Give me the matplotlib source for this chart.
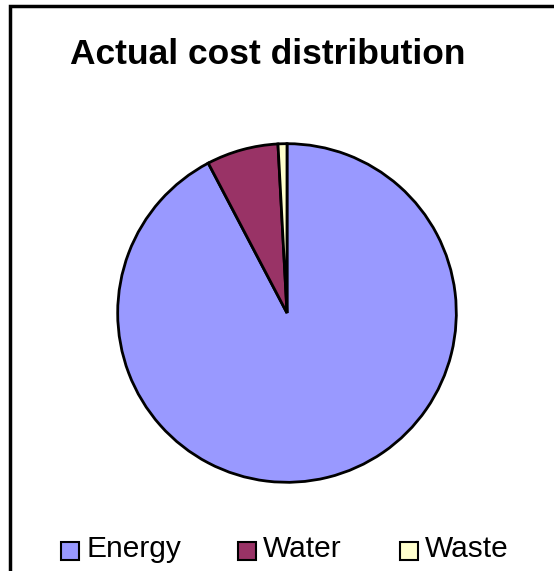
import matplotlib.pyplot as plt
from matplotlib.patches import Rectangle

# veri
labels = ["Energy", "Water", "Waste"]
values = [92.3, 6.85, 0.85]
colors = ["#9999FF", "#993366", "#FFFFCC"]
title = "Actual cost distribution"

W, H = 554, 571
fig = plt.figure(figsize=(W / 100, H / 100), dpi=100)
fig.patch.set_facecolor("white")

# dış çerçeve (sağ ve alt resim dışında kalıyor)
fig.add_artist(Rectangle((10 / W, -0.1), 1.2, 1 - 6 / H + 0.1, transform=fig.transFigure,
                         fill=False, edgecolor="black", linewidth=2.5))

# pasta
r = 171
cx, cy = 287, 313
ax = fig.add_axes([(cx - r) / W, (H - cy - r) / H, 2 * r / W, 2 * r / H])
ax.pie(values, colors=colors, startangle=90, counterclock=False, radius=1,
       wedgeprops=dict(edgecolor="black", linewidth=2))
ax.set_xlim(-1.01, 1.01)
ax.set_ylim(-1.01, 1.01)
ax.set_aspect("equal")
ax.axis("off")

fig.text(268 / W, 1 - 55 / H, title, ha="center", va="center",
         fontsize=25.5, fontweight="bold", family="Liberation Sans")

# lejant
sq_x = [61, 238, 400]
for lab, col, x in zip(labels, colors, sq_x):
    fig.add_artist(Rectangle((x / W, 1 - 560 / H), 18 / W, 18 / H, transform=fig.transFigure,
                             facecolor=col, edgecolor="black", linewidth=1.5))
    fig.text((x + 25) / W, 1 - 549 / H, lab, ha="left", va="center",
             fontsize=21.5, family="Liberation Sans")

fig.savefig("out.png", dpi=100)
